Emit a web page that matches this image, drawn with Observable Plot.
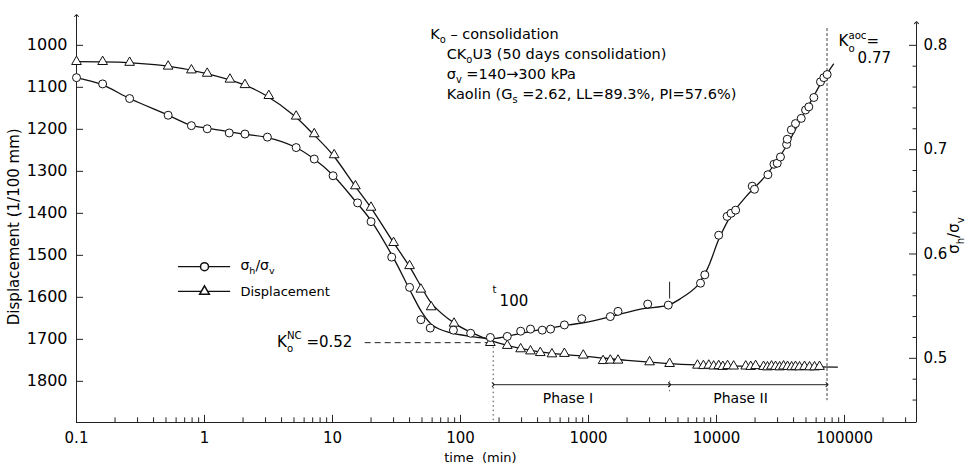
<!DOCTYPE html>
<html><head><meta charset="utf-8">
<script src="https://cdn.jsdelivr.net/npm/d3@7"></script>
<script src="https://cdn.jsdelivr.net/npm/@observablehq/plot@0.6"></script>
<style>body{margin:0;background:#fff;} svg{display:block;}</style>
</head><body><div id="chart"></div>
<script>
// ---- data ----
// sigma_h / sigma_v measured points (time in min, ratio)
const ratioPtsT = [0.1,0.16,0.26,0.52,0.79,1.05,1.56,2.07,3.1,5.2,7.2,10.1,15.7,20,29,40,49,58,88,120,171,232,295,352,435,505,648,885,1480,1700,2900,4200,7500,8100,10400,12100,13000,14100,19000,19800,25200,28100,29800,31600,35300,35700,38400,41400,45900,49600,52600,57600,64900,68900,73200];
const ratioPtsV = [0.769,0.763,0.749,0.733,0.723,0.720,0.716,0.715,0.712,0.702,0.691,0.675,0.649,0.631,0.597,0.568,0.537,0.529,0.527,0.524,0.520,0.521,0.526,0.528,0.527,0.528,0.532,0.538,0.540,0.545,0.552,0.551,0.572,0.580,0.618,0.636,0.639,0.642,0.665,0.662,0.676,0.686,0.687,0.693,0.705,0.710,0.719,0.725,0.730,0.738,0.741,0.750,0.765,0.769,0.772];
// displacement measured points (time in min, 1/100 mm)
const dispPtsT = [0.1,0.16,0.26,0.52,0.79,1.05,1.58,2.07,3.18,5.2,7.2,10.3,15.1,20,30,40,49,59,89,171,232,295,352,420,518,648,910,1300,1480,1700,3000,4300,7100,7900,8700,9500,10400,11200,12200,13600,16900,18500,20200,23300,25000,26900,28900,31100,33400,35900,38600,41400,44500,48700,53300,58300,63800];
const dispPtsV = [1039,1039,1041,1050,1059,1067,1081,1094,1120,1169,1211,1261,1335,1386,1470,1525,1581,1623,1662,1708,1715,1723,1728,1732,1735,1734,1738,1751,1750,1750,1754,1758,1762,1763,1762,1764,1763,1765,1763,1764,1764,1765,1763,1765,1766,1764,1765,1766,1764,1765,1766,1765,1766,1765,1766,1766,1765];
// smooth fitted curves drawn through the data
const ratioCurveT = [0.1,0.16,0.26,0.5,0.8,1,2,3,5,7,10,15,20,30,40,50,60,80,120,180,250,400,700,1000,1500,2500,4200,5200,7000,8500,10500,13000,17000,25000,35000,45000,55000,65000,75000,82000];
const ratioCurveV = [0.769,0.762,0.749,0.734,0.723,0.721,0.715,0.712,0.703,0.692,0.676,0.651,0.632,0.596,0.566,0.544,0.532,0.525,0.521,0.519,0.522,0.527,0.532,0.535,0.540,0.547,0.551,0.557,0.569,0.586,0.615,0.637,0.655,0.677,0.703,0.728,0.747,0.763,0.775,0.782];
const dispCurveT = [0.1,0.25,0.5,1,2,3,5,7,10,15,20,30,40,50,60,90,120,180,300,500,1000,2000,4000,7000,15000,40000,88000];
const dispCurveV = [1039,1041,1049,1066,1093,1119,1167,1210,1260,1335,1387,1470,1527,1578,1616,1662,1683,1705,1722,1733,1741,1750,1757,1761,1764,1765,1766];
// axes
const timeTicks = [0.1,1,10,100,1000,10000,100000];
const timeTickLabels = ["0.1","1","10","100","1000","10000","100000"];
const dispTicks = [1000,1100,1200,1300,1400,1500,1600,1700,1800];
const ratioTicks = [0.5,0.6,0.7,0.8];
const ratioMinorTicks = [0.46,0.48,0.52,0.54,0.56,0.58,0.62,0.64,0.66,0.68,0.72,0.74,0.76,0.78];
// key times / values
const t100 = 180, tPhaseSplit = 4300, tEnd = 73000;
const kNC = 0.515;
const notes = ["K_{o} \u2013 consolidation","CK_{o}U3 (50 days consolidation)","\u03c3_{v} =140\u2192300 kPa","Kaolin (G_{s} =2.62, LL=89.3%, PI=57.6%)"];

// ---- scales ----
const xMin = 0.1, xMax = 365000;
const yBottom = 1898, yTop = 929;
const r2d = r => 1000 + (0.8 - r) * 2484;   // right axis (ratio) expressed in left-axis units
const minorTime = [];
for (let e = -1; e <= 5; e++) for (let m = 2; m <= 9; m++) { const v = m * Math.pow(10, e); if (v < xMax) minorTime.push(+v.toPrecision(3)); }

const ratioPts = ratioPtsT.map((t, i) => ({t, v: ratioPtsV[i]}));
const dispPts = dispPtsT.map((t, i) => ({t, v: dispPtsV[i]}));
const ratioCurve = ratioCurveT.map((t, i) => ({t, v: ratioCurveV[i]}));
const dispCurve = dispCurveT.map((t, i) => ({t, v: dispCurveV[i]}));
const xTickTable = timeTicks.map((t, i) => ({t, label: timeTickLabels[i]}));

const F = "DejaVu Sans";
const plot = Plot.plot({
  width: 973, height: 469,
  marginLeft: 76, marginRight: 57, marginTop: 15, marginBottom: 47,
  x: {type: "log", domain: [xMin, xMax], axis: null},
  y: {domain: [yBottom, yTop], axis: null},
  style: {fontFamily: F, fontSize: "15px", color: "black", background: "white"},
  marks: [
    // axis lines
    Plot.link([0], {x1: xMin, x2: xMin, y1: yBottom, y2: yTop, stroke: "#222", strokeWidth: 1, markerEnd: "arrow"}),
    Plot.link([0], {x1: xMax, x2: xMax, y1: yBottom, y2: 946, stroke: "#222", strokeWidth: 1, markerEnd: "arrow"}),
    Plot.ruleY([yBottom], {x1: xMin, x2: xMax, stroke: "#222", strokeWidth: 1.2}),
    // x ticks (inward)
    Plot.ruleX(minorTime, {x: d => d, y1: yBottom, y2: yBottom - 11, stroke: "#222"}),
    Plot.ruleX(timeTicks, {x: d => d, y1: yBottom, y2: yBottom - 17, stroke: "#222"}),
    Plot.text(xTickTable, {x: "t", y: yBottom, dy: 16, text: "label", fontSize: 15}),
    // left ticks
    Plot.ruleY(dispTicks, {y: d => d, x1: xMin, x2: 0.1135, stroke: "#222"}),
    Plot.text(dispTicks, {x: xMin, y: d => d, dx: -9, text: d => String(d), textAnchor: "end", fontSize: 16}),
    // right ticks
    Plot.ruleY(ratioTicks, {y: d => r2d(d), x1: 322000, x2: xMax, stroke: "#222"}),
    Plot.ruleY(ratioMinorTicks, {y: d => r2d(d), x1: 343000, x2: xMax, stroke: "#222"}),
    Plot.text(ratioTicks, {x: xMax, y: d => r2d(d), dx: 7, text: d => d.toFixed(1), textAnchor: "start", fontSize: 15}),
    // axis titles
    Plot.text(["Displacement (1/100 mm)"], {x: xMin, y: 1432, dx: -62, rotate: -90, fontSize: 15}),
    Plot.text(["\u03c3_{h}/\u03c3_{v}"], {x: xMax, y: 1453, dx: 38, rotate: -90, fontSize: 15}),
    Plot.text(["time  (min)"], {x: 143, y: yBottom, dy: 35, fontSize: 13}),
    // guide lines
    Plot.ruleY([r2d(kNC)], {x1: 18, x2: t100, stroke: "#222", strokeDasharray: "6,4"}),
    Plot.ruleX([t100], {y1: r2d(kNC), y2: yBottom, stroke: "#444", strokeDasharray: "1.5,3"}),
    Plot.ruleX([tEnd], {y1: 960, y2: 1846, stroke: "#444", strokeDasharray: "3,2"}),
    Plot.ruleX([tPhaseSplit], {y1: 1564, y2: 1604, stroke: "#222"}),
    Plot.ruleX([tPhaseSplit], {y1: 1800, y2: 1830, stroke: "#666", strokeDasharray: "1.5,3"}),
    Plot.link([0], {x1: t100, x2: tPhaseSplit, y1: 1808, y2: 1808, stroke: "#222", markerStart: "arrow", markerEnd: "arrow"}),
    Plot.link([0], {x1: tPhaseSplit, x2: tEnd, y1: 1808, y2: 1808, stroke: "#222", markerStart: "arrow", markerEnd: "arrow"}),
    Plot.text(["Phase I"], {x: 690, y: 1841, fontSize: 14}),
    Plot.text(["Phase II"], {x: 15400, y: 1841, fontSize: 14}),
    // curves
    Plot.line(ratioCurve, {x: "t", y: d => r2d(d.v), curve: "catmull-rom", stroke: "#111", strokeWidth: 1.3}),
    Plot.line(dispCurve, {x: "t", y: "v", curve: "catmull-rom", stroke: "#111", strokeWidth: 1.3}),
    Plot.dot(dispPts, {x: "t", y: "v", symbol: "triangle", r: 3.6, fill: "white", stroke: "#111", strokeWidth: 1}),
    Plot.dot(ratioPts, {x: "t", y: d => r2d(d.v), r: 4, fill: "white", stroke: "#111", strokeWidth: 1}),
    // legend
    Plot.ruleY([1527], {x1: 0.627, x2: 1.6, stroke: "#111", strokeWidth: 1.3}),
    Plot.ruleY([1586], {x1: 0.627, x2: 1.6, stroke: "#111", strokeWidth: 1.3}),
    Plot.dot([0], {x: 1.0, y: 1527, r: 4, fill: "white", stroke: "#111"}),
    Plot.dot([0], {x: 1.0, y: 1586, symbol: "triangle", r: 3.6, fill: "white", stroke: "#111"}),
    Plot.text(["\u03c3_{h}/\u03c3_{v}"], {x: 1.91, y: 1524, textAnchor: "start", fontSize: 14}),
    Plot.text(["Displacement"], {x: 1.91, y: 1586, textAnchor: "start", fontSize: 13}),
    // annotations
    Plot.text([notes[0]], {x: 58, y: 974, textAnchor: "start", fontSize: 14.5}),
    Plot.text([notes[1]], {x: 78, y: 1022, textAnchor: "start", fontSize: 14.5}),
    Plot.text([notes[2]], {x: 78, y: 1069, textAnchor: "start", fontSize: 14.5}),
    Plot.text([notes[3]], {x: 78, y: 1117, textAnchor: "start", fontSize: 14.5}),
    Plot.text(["K_{o}^{aoc}="], {x: 89800, y: 991, textAnchor: "start", fontSize: 15}),
    Plot.text(["0.77"], {x: 126500, y: 1031, textAnchor: "start", fontSize: 15}),
    Plot.text(["K_{o}^{NC} =0.52"], {x: 14.3, y: 1707, textAnchor: "end", fontSize: 15}),
    Plot.text(["t"], {x: 178, y: 1583, textAnchor: "start", fontSize: 10}),
    Plot.text(["100"], {x: 202, y: 1608, textAnchor: "start", fontSize: 15})
  ]
});
document.getElementById("chart").appendChild(plot);

// sub/superscript rendering for texts written as X_{sub}^{sup}
plot.querySelectorAll("text").forEach(t => {
  const s = t.textContent;
  if (!/[_^]\{/.test(s)) return;
  const fs = parseFloat(getComputedStyle(t).fontSize) || 15;
  const parts = s.split(/(_\{[^}]*\}|\^\{[^}]*\})/).filter(p => p.length);
  while (t.firstChild) t.removeChild(t.firstChild);
  let shift = 0, prevSub = null;
  for (const p of parts) {
    const ts = document.createElementNS("http://www.w3.org/2000/svg", "tspan");
    let target = 0, txt = p, small = false;
    const stacked = p.startsWith("^{") && prevSub;
    if (p.startsWith("_{")) { target = (s.includes("^{") ? 0.36 : 0.28) * fs; txt = p.slice(2, -1); small = true; }
    else if (p.startsWith("^{")) { target = -0.52 * fs; txt = p.slice(2, -1); small = true; }
    ts.textContent = txt;
    if (small) ts.setAttribute("font-size", (0.68 * fs).toFixed(1));
    const dy = target - shift;
    if (dy !== 0) ts.setAttribute("dy", dy.toFixed(2));
    shift = target;
    if (stacked) ts.setAttribute("dx", (-prevSub.getComputedTextLength()).toFixed(2));
    t.appendChild(ts);
    prevSub = p.startsWith("_{") ? ts : null;
  }
});
</script>
</body></html>
